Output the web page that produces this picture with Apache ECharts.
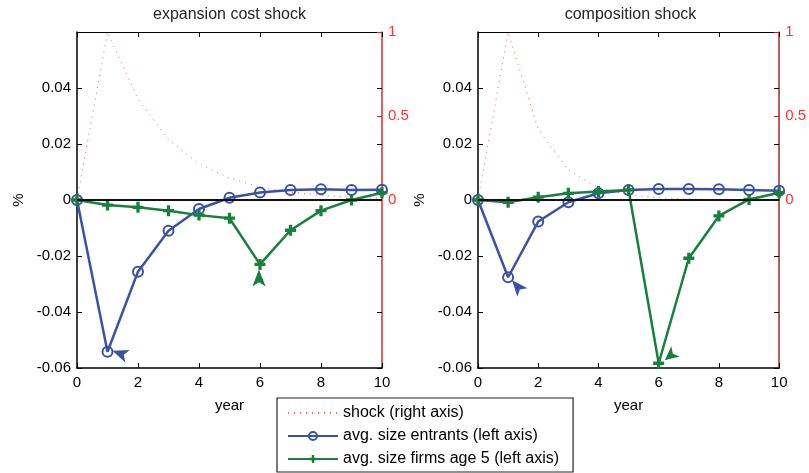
<!DOCTYPE html>
<html>
<head>
<meta charset="utf-8">
<script src="https://cdn.jsdelivr.net/npm/echarts@6/dist/echarts.min.js"></script>
<style>
  html, body { margin: 0; padding: 0; background: #fff; }
  #chart { width: 809px; height: 473px; }
</style>
</head>
<body>
<div id="chart"></div>
<script>
// Impulse responses over ten years after the shock
const years = [0, 1, 2, 3, 4, 5, 6, 7, 8, 9, 10];

// Shock paths (right axis)
const shockExpansion   = [0, 1, 0.6, 0.36, 0.216, 0.13, 0.078, 0.047, 0.028, 0.017, 0.01];
const shockComposition = [0, 1, 0.42, 0.177, 0.074, 0.031, 0.013, 0.006, 0.002, 0.001, 0.0004];

// Responses in % (left axis)
const entrantsExpansion   = [0, -0.0542, -0.0256, -0.011, -0.0032, 0.0008, 0.0027, 0.0036, 0.0038, 0.0036, 0.0037];
const age5Expansion       = [0, -0.0018, -0.0026, -0.0038, -0.0054, -0.0065, -0.023, -0.0108, -0.0038, 0.0, 0.0026];
const entrantsComposition = [0, -0.0276, -0.0077, -0.0008, 0.0024, 0.0036, 0.0039, 0.0039, 0.0038, 0.0036, 0.0033];
const age5Composition     = [0, -0.0008, 0.001, 0.0024, 0.003, 0.0036, -0.0583, -0.0208, -0.0057, 0.0002, 0.0026];

const panelTitles = ['expansion cost shock', 'composition shock'];
const seriesNames = ['shock (right axis)', 'avg. size entrants (left axis)', 'avg. size firms age 5 (left axis)'];

const FONT = '"Liberation Sans", Arial, Helvetica, sans-serif';
const BLUE = '#3a52a3';
const GREEN = '#17803d';
const SHOCK_RED = '#f04848';
const LABEL_RED = '#ff3030';
const PLUS = 'path://M3.5,0H6.5V3.5H10V6.5H6.5V10H3.5V6.5H0V3.5H3.5Z';

// Arrowheads: anchor sits at the tip, offset from the data point it marks
const panels = [
  {
    title: panelTitles[0], left: 77, axisRed: '#d42c2c',
    shock: shockExpansion, entrants: entrantsExpansion, age5: age5Expansion,
    entrantsArrow: { i: 1, offset: [5, -1], rotate: 70, size: [10, 16] },
    age5Arrow: { i: 6, offset: [-1, 5], rotate: 0, size: [10, 17] }
  },
  {
    title: panelTitles[1], left: 478, axisRed: '#a2282a',
    shock: shockComposition, entrants: entrantsComposition, age5: age5Composition,
    entrantsArrow: { i: 1, offset: [4, 3], rotate: 40, size: [10, 16] },
    age5Arrow: { i: 6, offset: [6, -3], rotate: 129, size: [10, 14] }
  }
];

const GRID_W = 305, GRID_TOP = 32, GRID_H = 336;
const fmt = v => (Math.abs(v) < 1e-12 ? '0' : String(+v.toFixed(2)));
const pairs = arr => years.map((y, k) => [y, arr[k]]);

const grid = [], xAxis = [], yAxis = [], series = [], graphic = [];

panels.forEach((p, i) => {
  grid.push({ left: p.left, top: GRID_TOP, width: GRID_W, height: GRID_H, containLabel: false });

  const tickBlack = { show: true, inside: true, length: 5, lineStyle: { color: '#000', width: 1 } };

  // bottom year axis
  xAxis.push({
    gridIndex: i, type: 'value', position: 'bottom', min: 0, max: 10, interval: 2,
    axisLine: { show: true, onZero: false, lineStyle: { color: '#000', width: 1.5 } },
    axisTick: tickBlack,
    axisLabel: { color: '#000', fontSize: 15, fontFamily: FONT, margin: 7 },
    splitLine: { show: false },
    name: 'year', nameLocation: 'middle', nameGap: 30,
    nameTextStyle: { color: '#000', fontSize: 15, fontFamily: FONT }
  });
  // top frame
  xAxis.push({
    gridIndex: i, type: 'value', position: 'top', min: 0, max: 10, interval: 2,
    axisLine: { show: true, onZero: false, lineStyle: { color: '#000', width: 1 } },
    axisTick: tickBlack, axisLabel: { show: false }, splitLine: { show: false }
  });

  // left % axis
  yAxis.push({
    gridIndex: i, type: 'value', position: 'left', min: -0.06, max: 0.06, interval: 0.02,
    axisLine: { show: true, onZero: false, lineStyle: { color: '#000', width: 1.5 } },
    axisTick: tickBlack,
    axisLabel: { color: '#000', fontSize: 15, fontFamily: FONT, margin: 6, showMaxLabel: false, formatter: fmt },
    splitLine: { show: false },
    name: '%', nameLocation: 'middle', nameGap: 51, nameRotate: 90,
    nameTextStyle: { color: '#000', fontSize: 15, fontFamily: FONT }
  });
  // mirrored ticks of the % axis on the right frame
  yAxis.push({
    gridIndex: i, type: 'value', position: 'right', min: -0.06, max: 0.06, interval: 0.02,
    axisLine: { show: false, onZero: false }, axisTick: tickBlack,
    axisLabel: { show: false }, splitLine: { show: false }
  });
  // right shock axis
  yAxis.push({
    gridIndex: i, type: 'value', position: 'right', min: -1, max: 1, interval: 0.5,
    axisLine: { show: true, onZero: false, lineStyle: { color: p.axisRed, width: 1.5 } },
    axisTick: { show: true, inside: true, length: 5, customValues: [0, 0.5, 1], lineStyle: { color: p.axisRed } },
    axisLabel: { customValues: [0, 0.5, 1], color: LABEL_RED, fontSize: 15, fontFamily: FONT, margin: 6, formatter: fmt },
    splitLine: { show: false }
  });

  const xi = 2 * i, yi = 3 * i;

  series.push({
    type: 'line', name: seriesNames[0], xAxisIndex: xi, yAxisIndex: yi + 2,
    data: pairs(p.shock), symbol: 'none', showSymbol: false, silent: true,
    itemStyle: { color: 'rgba(0,0,0,0)' },
    lineStyle: { color: SHOCK_RED, width: 1, type: [1, 5], opacity: 0.85 },
    z: 2
  });

  const ea = p.entrantsArrow, ga = p.age5Arrow;

  series.push({
    type: 'line', name: seriesNames[1], xAxisIndex: xi, yAxisIndex: yi,
    data: pairs(p.entrants), symbol: 'circle', symbolSize: 10, silent: true,
    itemStyle: { color: 'rgba(255,255,255,0)', borderColor: BLUE, borderWidth: 2 },
    lineStyle: { color: BLUE, width: 2.5 },
    z: 3,
    markLine: {
      silent: true, symbol: ['none', 'none'], label: { show: false },
      lineStyle: { color: '#111', width: 2, type: 'solid' },
      emphasis: { disabled: true },
      data: [{ yAxis: 0 }]
    },
    markPoint: {
      silent: true, label: { show: false },
      data: [{
        coord: [years[ea.i], p.entrants[ea.i]], symbol: 'arrow', symbolSize: ea.size,
        symbolRotate: ea.rotate, symbolOffset: ea.offset, itemStyle: { color: BLUE, borderWidth: 0 }
      }]
    }
  });

  series.push({
    type: 'line', name: seriesNames[2], xAxisIndex: xi, yAxisIndex: yi,
    data: pairs(p.age5), symbol: PLUS, symbolSize: 11, silent: true,
    itemStyle: { color: GREEN },
    lineStyle: { color: GREEN, width: 2.5 },
    z: 4,
    markPoint: {
      silent: true, label: { show: false },
      data: [{
        coord: [years[ga.i], p.age5[ga.i]], symbol: 'arrow', symbolSize: ga.size,
        symbolRotate: ga.rotate, symbolOffset: ga.offset, itemStyle: { color: GREEN }
      }]
    }
  });

  graphic.push({
    type: 'text', x: p.left + GRID_W / 2, y: 15,
    style: { text: p.title, align: 'center', verticalAlign: 'middle', fill: '#262626', font: '16px ' + FONT }
  });
});

const chart = echarts.init(document.getElementById('chart'), null, { renderer: 'canvas' });
chart.setOption({
  animation: false,
  backgroundColor: '#fff',
  grid, xAxis, yAxis, series, graphic,
  legend: {
    data: seriesNames, orient: 'vertical', left: 277, top: 398, height: 120,
    itemWidth: 50, itemHeight: 10, itemGap: 7,
    padding: [7, 14, 5, 10],
    borderColor: '#222', borderWidth: 1.2, backgroundColor: '#fff',
    selectedMode: false,
    textStyle: { color: '#000', fontSize: 16, fontFamily: FONT }
  }
});
</script>
</body>
</html>
